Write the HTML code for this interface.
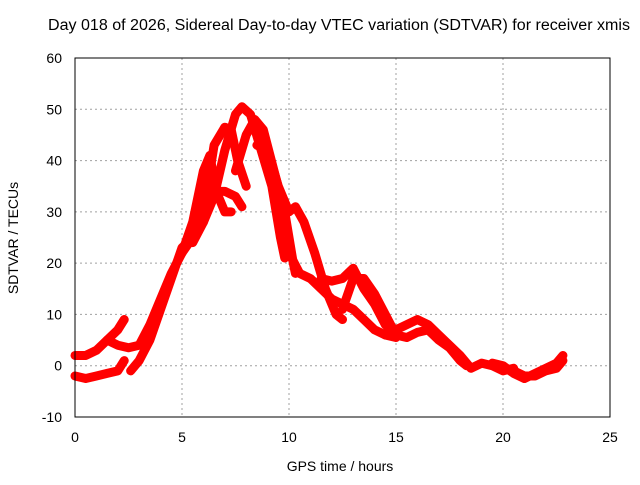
<!DOCTYPE html>
<html><head><meta charset="utf-8"><style>
body{margin:0;background:#fff;}
svg text{font-family:"Liberation Sans",sans-serif;font-size:14px;fill:#000;}
</style></head><body>
<svg id="chart" width="640" height="480" xmlns="http://www.w3.org/2000/svg">
<rect width="640" height="480" fill="#fff"/>
<text x="339" y="30" text-anchor="middle" style="font-size:15.5px" textLength="582" lengthAdjust="spacingAndGlyphs">Day 018 of 2026, Sidereal Day-to-day VTEC variation (SDTVAR) for receiver xmis</text>
<text x="340" y="471" text-anchor="middle">GPS time / hours</text>
<text transform="translate(18,238) rotate(-90)" text-anchor="middle">SDTVAR / TECUs</text>
<g id="grid"></g><g id="ticks"></g><g id="series"></g>
<rect x="75" y="58" width="535" height="359" fill="none" stroke="#000" stroke-width="1"/>
</svg>
<script>
const xTicks=[0,5,10,15,20,25];
const yTicks=[-10,0,10,20,30,40,50,60];
const trackA=[[0,2],[0.5,2],[1,3],[1.5,5],[2,7],[2.3,9]];
const trackB=[[0,-2],[0.5,-2.5],[1,-2],[1.5,-1.5],[2,-1],[2.3,1]];
const trackC=[[1.5,5],[2,4],[2.5,3.5],[3,4],[3.5,8],[4,13],[4.5,18],[5,22],[5.5,28],[6,38],[6.3,41],[6.6,34],[7,30],[7.3,30]];
const trackD=[[2.6,-1],[3,1],[3.5,5],[4,11],[4.5,17],[5,23],[5.5,25],[6,28],[6.5,34],[7,34],[7.5,33],[7.8,31]];
const trackE=[[5,22],[5.5,25],[6,30],[6.5,43],[7,46.5],[7.3,46],[7.6,40],[8,35]];
const trackF=[[5.5,24],[6,28],[6.5,33],[7,42],[7.5,49],[7.8,50.5],[8.2,49],[8.7,42],[9.2,35],[9.6,25],[9.8,21]];
const trackG=[[7.5,38],[8,45],[8.4,48],[8.8,46],[9.3,38],[9.8,30],[10,25],[10.2,20],[10.3,18]];
const trackH=[[8.5,43],[9,42],[9.5,35],[10,30],[10.3,31],[10.7,28],[11.2,22],[11.7,15],[12.2,10],[12.5,9]];
const trackI=[[10,22],[10.5,18],[11,17],[11.5,15],[12,13],[12.5,12],[13,11],[13.5,9],[14,7],[14.5,6],[15,5.5]];
const trackJ=[[11.5,17],[12,16.5],[12.5,17],[13,19],[13.5,15],[14,12],[14.5,8],[15,6]];
const trackK=[[12.5,11],[13,17],[13.5,17],[14,14],[14.5,10],[15,6]];
const trackL=[[14.5,6],[15,7],[15.5,8],[16,9],[16.5,8],[17,6],[17.5,4],[18,2],[18.5,-0.5],[19,0.5],[19.5,0],[20,-1],[20.5,-0.5]];
const trackM=[[15,6],[15.5,5.5],[16,6.5],[16.5,7],[17,5],[17.5,3.5],[18,1],[18.3,0]];
const trackN=[[19.5,0.5],[20,0],[20.5,-1.5],[21,-2.5],[21.5,-1.5],[22,-0.5],[22.5,0.5],[22.8,2]];
const trackO=[[20.5,-1],[21,-2],[21.5,-2],[22,-1],[22.5,-0.5],[22.8,1]];
const tracks=[trackA,trackB,trackC,trackD,trackE,trackF,trackG,trackH,trackI,trackJ,trackK,trackL,trackM,trackN,trackO];
const NS="http://www.w3.org/2000/svg";
function xs(v){return 75+v*535/25;}
function ys(v){return 417-(v+10)*359/70;}
const grid=document.getElementById('grid'),ticks=document.getElementById('ticks'),ser=document.getElementById('series');
xTicks.forEach(t=>{
 if(t>0&&t<25){const l=document.createElementNS(NS,'line');
 
 
 l.setAttribute('x1',xs(t));l.setAttribute('x2',xs(t));l.setAttribute('y1',58);l.setAttribute('y2',417);
 l.setAttribute('stroke','#a0a0a0');l.setAttribute('stroke-dasharray','2,3');grid.appendChild(l);}
 const tx=document.createElementNS(NS,'text');
 
 
 tx.setAttribute('x',xs(t));tx.setAttribute('y',442);tx.setAttribute('text-anchor','middle');tx.textContent=t;ticks.appendChild(tx);
});
yTicks.forEach(t=>{
 if(t>-10&&t<60){const l=document.createElementNS(NS,'line');
 
 
 l.setAttribute('x1',75);l.setAttribute('x2',610);l.setAttribute('y1',ys(t));l.setAttribute('y2',ys(t));
 l.setAttribute('stroke','#a0a0a0');l.setAttribute('stroke-dasharray','2,3');grid.appendChild(l);}
 const tx=document.createElementNS(NS,'text');
 
 
 tx.setAttribute('x',62);tx.setAttribute('y',ys(t)+5);tx.setAttribute('text-anchor','end');tx.textContent=t;ticks.appendChild(tx);
});
tracks.forEach(tr=>{
 const p=document.createElementNS(NS,'polyline');
 
 
 p.setAttribute('points',tr.map(d=>xs(d[0])+','+ys(d[1])).join(' '));
 p.setAttribute('fill','none');p.setAttribute('stroke','#ff0000');p.setAttribute('stroke-width','9');
 p.setAttribute('stroke-linejoin','round');p.setAttribute('stroke-linecap','round');
 ser.appendChild(p);
});
</script>
</body></html>
